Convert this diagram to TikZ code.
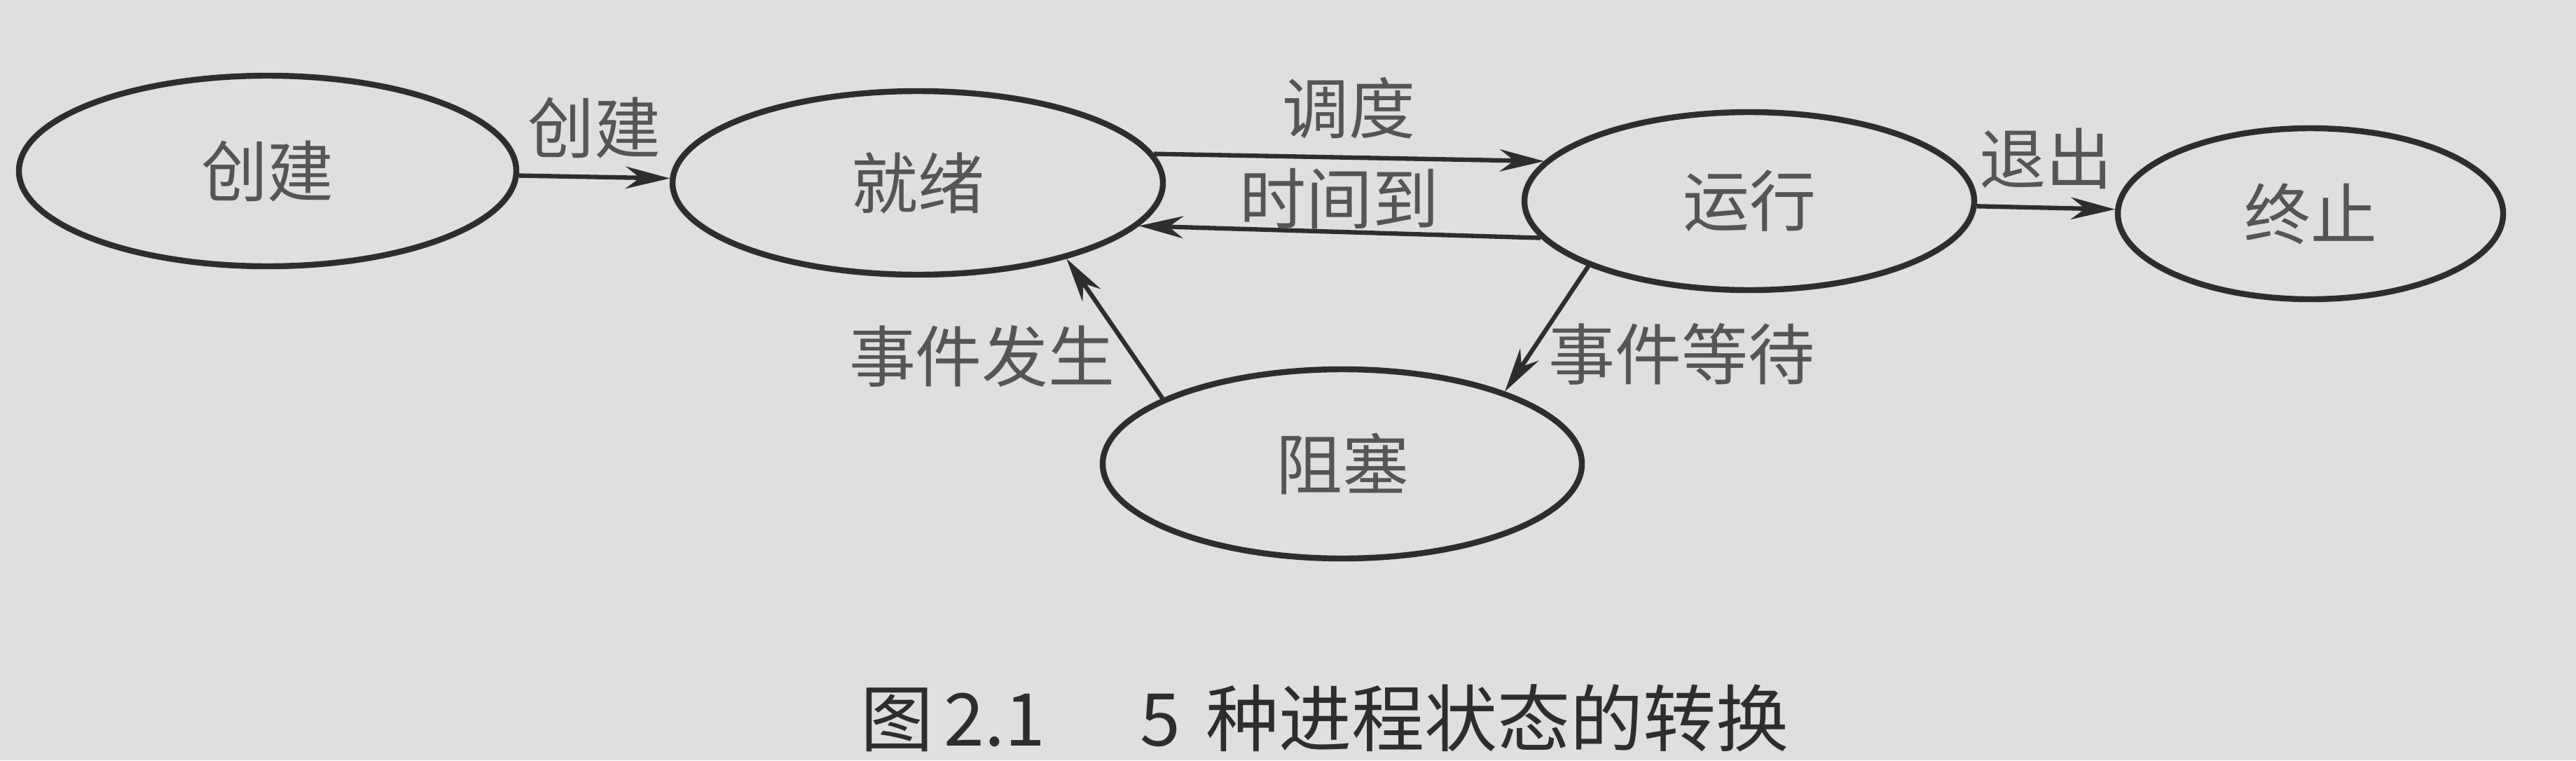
\documentclass[tikz,border=0pt]{standalone}
\usepackage{fontspec}
\setmainfont{Noto Sans CJK SC}
\usepackage{tikz}
\usetikzlibrary{automata, positioning, arrows.meta, shapes.geometric}
\definecolor{paper}{RGB}{221,224,220}
\definecolor{ink}{RGB}{45,45,45}
\definecolor{print}{RGB}{85,85,85}
\tikzset{
	>={Stealth[length=9pt,width=4.5pt]}, % narrow filled arrow heads
	every state/.style={ellipse, draw=ink, line width=1.2pt, text=print}, % states are drawn as ellipses
	every edge/.style={draw=ink, line width=0.9pt, ->}, % makes the edges directed
	lbl/.style={text=print}, % labels on the connectors
}

\begin{document}
\begin{tikzpicture}[font=\fontsize{13.5}{16}\selectfont]
		\fill[paper] (-1.91,1.22) rectangle (16.475,-4.205);
		\useasboundingbox (-1.91,1.22) rectangle (16.475,-4.205);

		\node[state, minimum width=3.55cm, minimum height=1.36cm](create){创建};
		\node[state, right of=create, node distance=4.64cm, yshift=-0.085cm, minimum width=3.5cm, minimum height=1.31cm](ready){就绪};
		\node[state, right of=ready, node distance=5.935cm, yshift=-0.13cm, minimum width=3.21cm, minimum height=1.27cm](run){运行};
		\node[state, right of=run, node distance=4.005cm, yshift=-0.09cm, minimum width=2.75cm, minimum height=1.22cm](exit){终止};
		\node[state, below of=ready, node distance=2.005cm, xshift=3.03cm, minimum width=3.42cm, minimum height=1.35cm](block){阻塞};
		\node[below of=block, node distance=1.815cm, xshift=-0.125cm, text=ink, font=\fontsize{14.8}{18}\selectfont](caption){图\hspace{0.15em}2.1\hspace{1.3em}5\hspace{0.35em}种进程状态的转换};

		\draw (create) edge[above] node[lbl]{创建} (ready);
		\draw (ready.7) edge node[lbl, above]{调度} (run.169);
		\draw (run.190) edge node[lbl, above=-3.3pt]{时间到} (ready.349);
		\draw (run) edge[above] node[lbl]{退出} (exit);
		\draw (run.202) edge[right] node[lbl, pos=0.7]{事件等待} (block.24);
		\draw (block.160) edge[left] node[lbl, pos=0.3]{事件发生} (ready.333);

	\end{tikzpicture}
\end{document}
